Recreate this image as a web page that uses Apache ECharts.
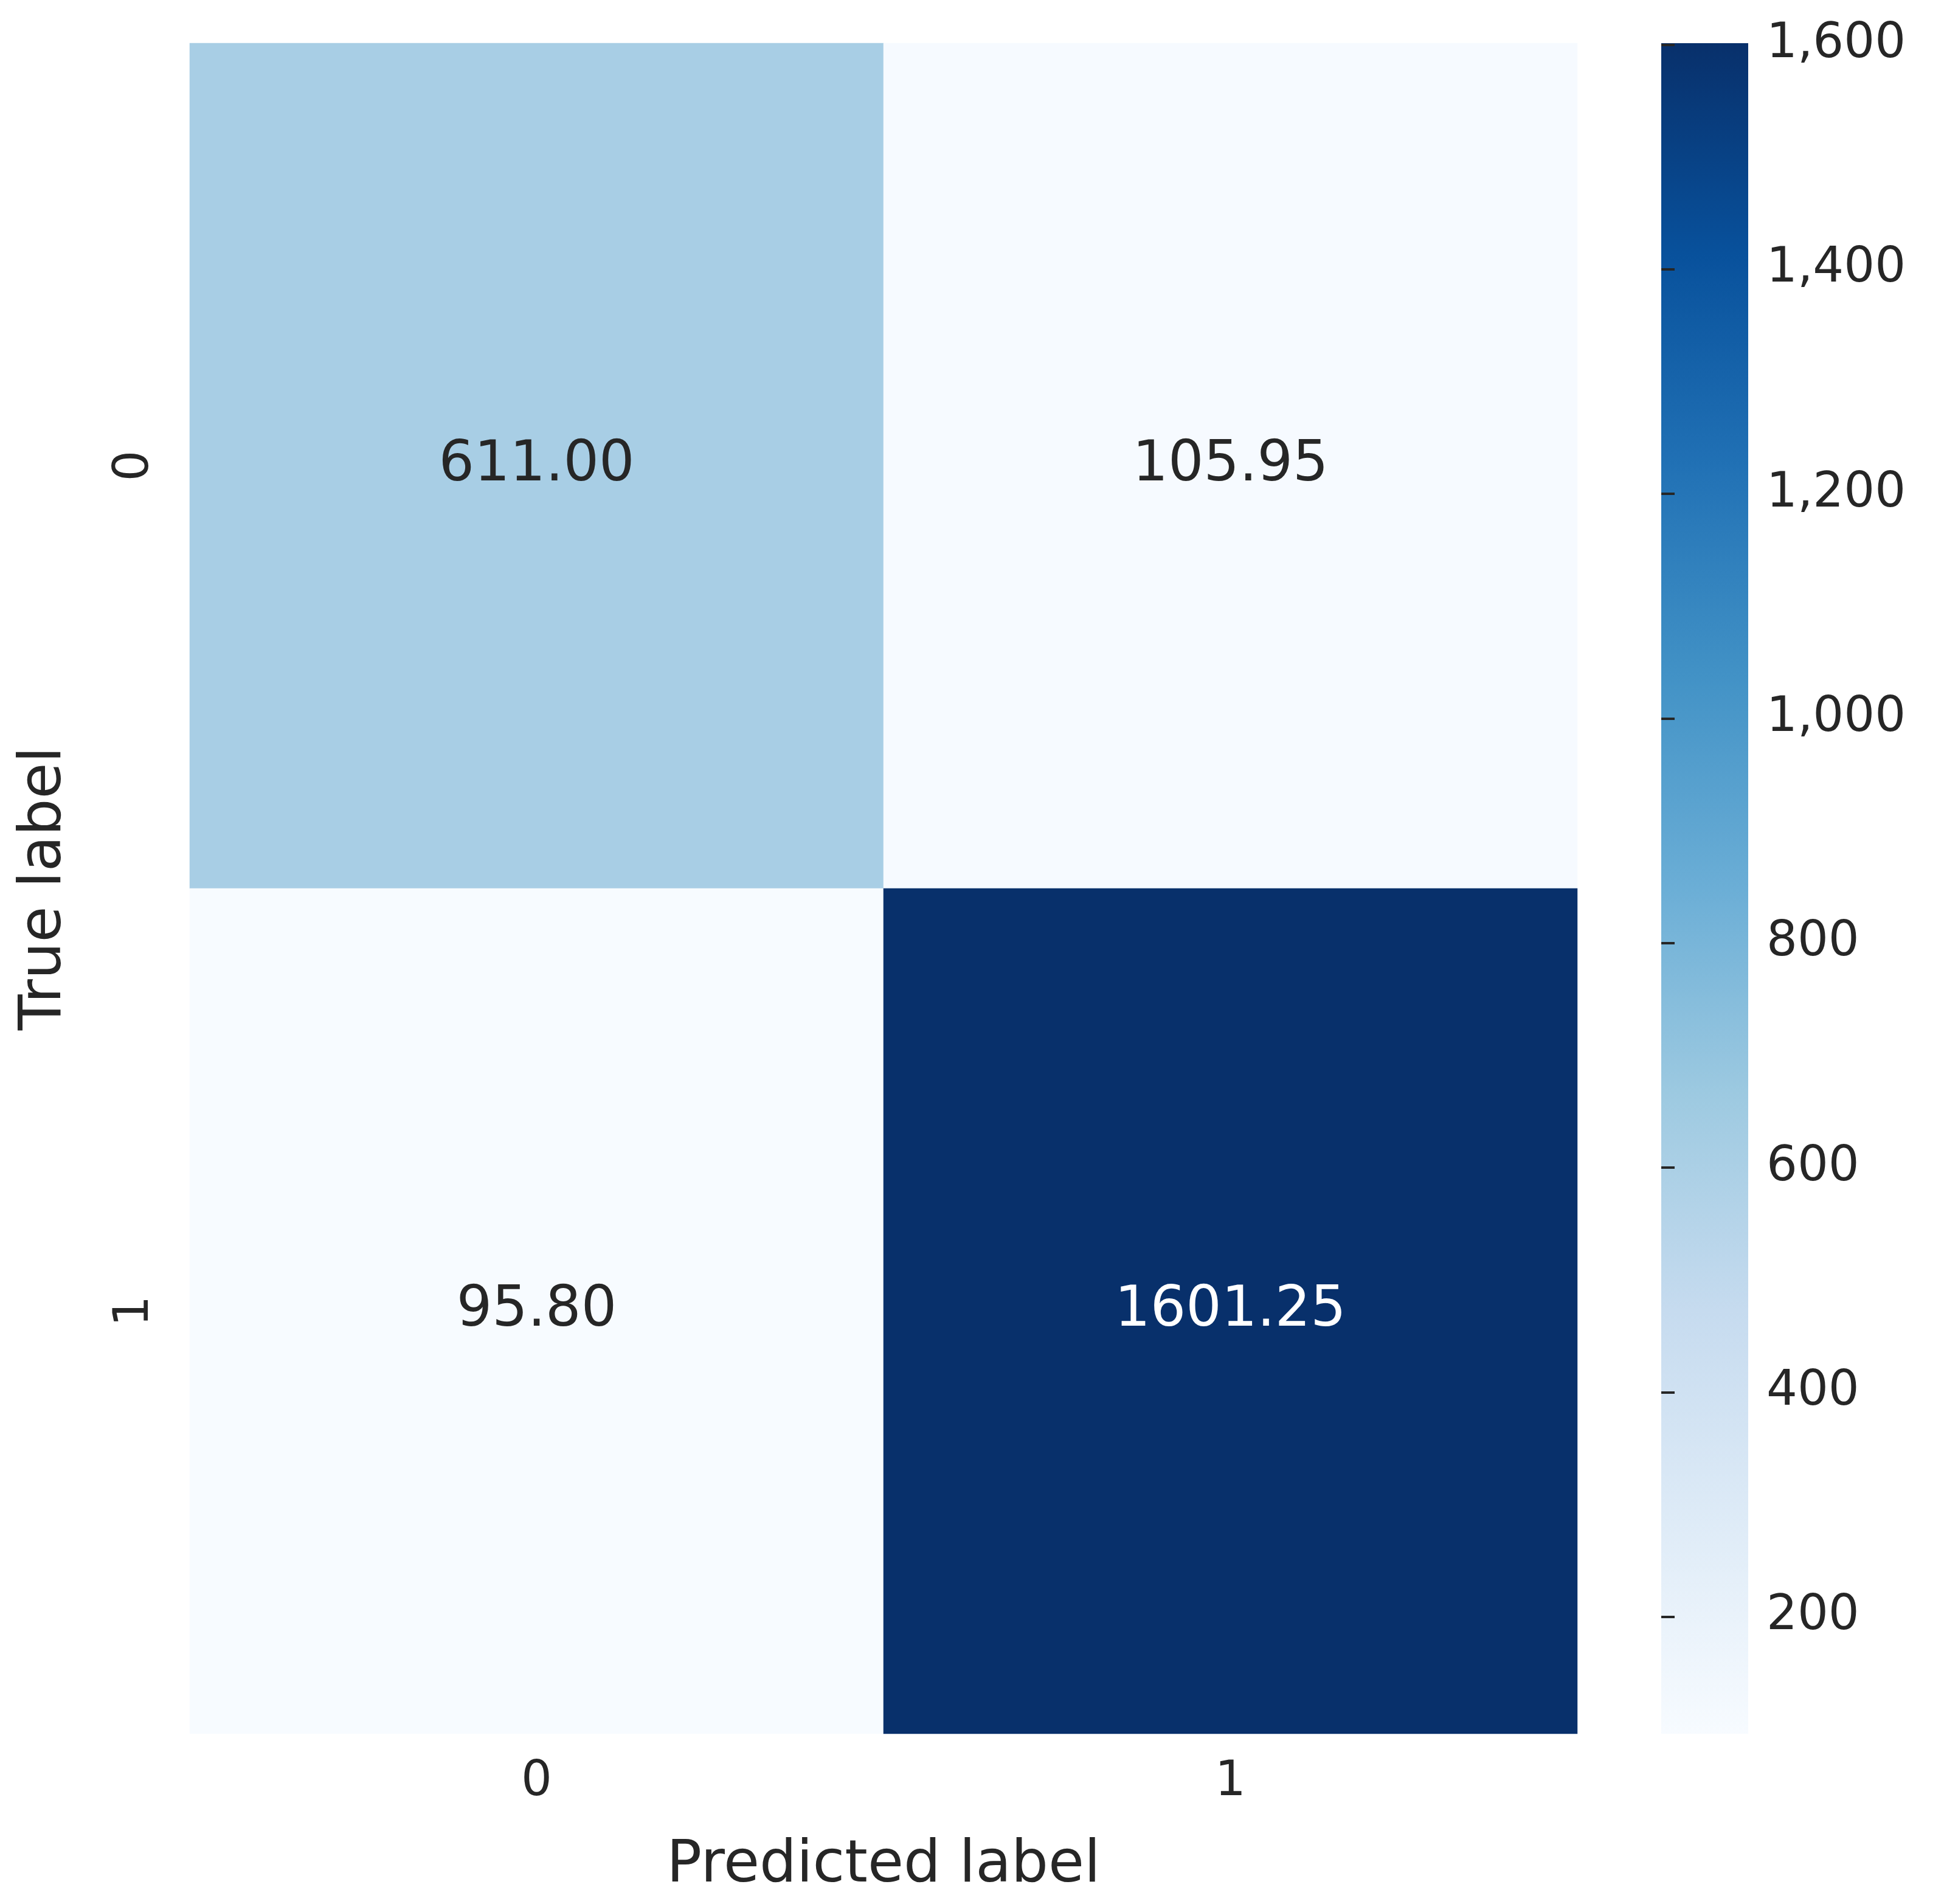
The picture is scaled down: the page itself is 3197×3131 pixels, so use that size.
<!DOCTYPE html>
<html>
<head>
<meta charset="utf-8">
<script src="https://cdn.jsdelivr.net/npm/echarts@6/dist/echarts.min.js"></script>
<style>
  html, body { margin: 0; padding: 0; background: #fff; }
  #chart { width: 3197px; height: 3131px; }
</style>
</head>
<body>
<div id="chart"></div>
<script>
// 混淆矩阵数据
var xLabels = ['0', '1']
var yLabels = ['0', '1']
// [x, y, value]
var cells = [
  [0, 0, 611.00],
  [1, 0, 105.95],
  [0, 1, 95.80],
  [1, 1, 1601.25]
]
var colorbarTicks = [200, 400, 600, 800, 1000, 1200, 1400, 1600]
var vMin = 95.80
var vMax = 1601.25

// Blues 色带
var blues = ['#f7fbff', '#deebf7', '#c6dbef', '#9ecae1', '#6baed6', '#4292c6', '#2171b5', '#08519c', '#08306b']
var textColor = '#262626'
var font = 'DejaVu Sans'

var stops = blues.map(function (c, i) {
  return { offset: 1 - i / (blues.length - 1), color: c }
})

var option = {
  animation: false,
  textStyle: { fontFamily: font },
  grid: [
    { left: 312, top: 71, width: 2282, height: 2780 },
    {
      left: 2732, top: 71, width: 143, height: 2780,
      show: true, borderWidth: 0,
      backgroundColor: new echarts.graphic.LinearGradient(0, 0, 0, 1, stops)
    }
  ],
  xAxis: [
    {
      type: 'category', data: xLabels, gridIndex: 0,
      axisLine: { show: false }, axisTick: { show: false }, splitLine: { show: false },
      axisLabel: { fontSize: 80, color: textColor, margin: 40, fontFamily: font },
      name: 'Predicted label', nameLocation: 'middle', nameGap: 170,
      nameTextStyle: { fontSize: 96, color: textColor, fontFamily: font }
    },
    { type: 'value', gridIndex: 1, show: false, min: 0, max: 1 }
  ],
  yAxis: [
    {
      type: 'category', data: yLabels, gridIndex: 0, inverse: true,
      axisLine: { show: false }, axisTick: { show: false }, splitLine: { show: false },
      axisLabel: { fontSize: 80, color: textColor, rotate: 90, margin: 50, fontFamily: font },
      name: 'True label', nameLocation: 'middle', nameGap: 190, nameRotate: 90,
      nameTextStyle: { fontSize: 96, color: textColor, fontFamily: font }
    },
    {
      type: 'value', gridIndex: 1, position: 'right', min: vMin, max: vMax,
      axisLine: { show: false }, splitLine: { show: false },
      axisTick: { show: true, length: 22, lineStyle: { color: textColor, width: 4 }, customValues: colorbarTicks },
      axisLabel: { fontSize: 80, color: textColor, margin: 30, fontFamily: font, customValues: colorbarTicks }
    }
  ],
  visualMap: {
    show: false, min: vMin, max: vMax, dimension: 2, seriesIndex: 0,
    inRange: { color: blues }
  },
  series: [
    {
      type: 'heatmap', xAxisIndex: 0, yAxisIndex: 0,
      data: cells,
      label: {
        show: true, fontSize: 92, fontFamily: font,
        formatter: function (p) { return p.value[2].toFixed(2) },
        color: textColor
      },
      itemStyle: { borderWidth: 0 }
    }
  ]
}

// 深色格子文字用白色
option.series[0].data = cells.map(function (c) {
  var item = { value: c }
  if (c[2] > (vMin + vMax) / 2) item.label = { color: '#ffffff' }
  return item
})

var myChart = echarts.init(document.getElementById('chart'))
myChart.setOption(option)
</script>
</body>
</html>
